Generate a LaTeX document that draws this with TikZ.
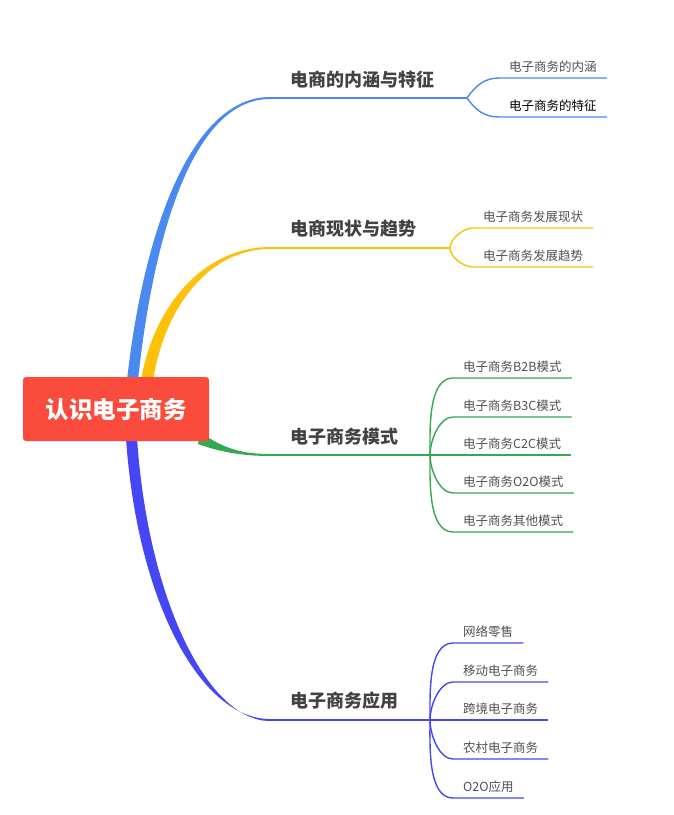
\documentclass[tikz,border=0pt]{standalone}
\usepackage{fontspec}
\setmainfont{Noto Sans CJK SC}
\usetikzlibrary{positioning}
\definecolor{rootred}{HTML}{FA4B3C}
\definecolor{cB}{HTML}{4A89F0}
\definecolor{cY}{HTML}{FEC10A}
\definecolor{cG}{HTML}{36A852}
\definecolor{cV}{HTML}{4646F5}
\definecolor{txt}{HTML}{424242}
\definecolor{subtxt}{HTML}{505050}

\begin{document}
\begin{tikzpicture}[x=1pt,y=-1pt,
  root/.style={fill=rootred,rounded corners=3pt,minimum width=186pt,minimum height=64pt,text=white,font=\fontsize{23.5}{25}\selectfont\bfseries},
  topic/.style={inner sep=0pt,text=txt,font=\fontsize{18}{20}\selectfont\bfseries},
  sub/.style={anchor=south west,inner xsep=10pt,inner ysep=4.5pt,text height=11pt,text depth=1.5pt,text=subtxt,font=\fontsize{12.5}{14}\selectfont},
  br/.style={line width=1.7pt},
  sl/.style={line width=1.4pt},
  bendup/.style={out=90,in=180,looseness=0.8},
  benddn/.style={out=-90,in=180,looseness=0.8}]
\useasboundingbox (0,0) rectangle (673,815);
% ---- branch joints ----
\coordinate (b1) at (270,98);  \coordinate (j1) at (467,98);
\coordinate (b2) at (270,248); \coordinate (j2) at (450,248);
\coordinate (b3) at (270,455); \coordinate (j3) at (430,455);
\coordinate (b4) at (270,720); \coordinate (j4) at (430,720);
% ---- tapered main branches (under the root box) ----
\fill[cB] (127,380) .. controls (145,220) and (195,97) .. (270,97) -- (270,99) .. controls (197,99) and (155,222) .. (138,380) -- cycle;
\fill[cY] (141,380) .. controls (155,300) and (208,247) .. (270,247) -- (270,249) .. controls (212,249) and (166,302) .. (153,380) -- cycle;
\fill[cG] (200,432) .. controls (225,450) and (245,454) .. (270,454) -- (270,456) .. controls (243,456) and (220,452) .. (198,444) -- cycle;
\fill[cV] (126,438) .. controls (137,600) and (200,719) .. (270,719) -- (270,721) .. controls (208,721) and (148,600) .. (137,438) -- cycle;
% ---- root ----
\node[root] (root) at (116,409) {认识电子商务};
% ---- topics ----
\node[topic,above right=10pt and 20pt of b1] (t1) {电商的内涵与特征};
\node[topic,above right=10pt and 20pt of b2] (t2) {电商现状与趋势};
\node[topic,above right=10pt and 20pt of b3] (t3) {电子商务模式};
\node[topic,above right=10pt and 20pt of b4] (t4) {电子商务应用};
\draw[cB,br] (b1) -- (j1);
\draw[cY,br] (b2) -- (j2);
\draw[cG,br] (b3) -- (j3);
\draw[cV,br] (b4) -- (j4);
% ---- 电商的内涵与特征 ----
\node[sub] (s11) at (499,78) {电子商务的内涵};
\node[sub,text=black] (s12) at (499,117) {电子商务的特征};
\draw[cB,sl] (j1) to[out=55,in=180] (s11.south west) -- (s11.south east);
\draw[cB,sl] (j1) to[out=-55,in=180] (s12.south west) -- (s12.south east);
% ---- 电商现状与趋势 ----
\node[sub] (s21) at (473,228) {电子商务发展现状};
\node[sub] (s22) at (473,267) {电子商务发展趋势};
\draw[cY,sl] (j2) to[bendup] (s21.south west) -- (s21.south east);
\draw[cY,sl] (j2) to[benddn] (s22.south west) -- (s22.south east);
% ---- 电子商务模式 ----
\node[sub] (s31) at (453,378) {电子商务B2B模式};
\node[sub] (s32) at (453,417) {电子商务B3C模式};
\node[sub] (s33) at (453,455) {电子商务C2C模式};
\node[sub] (s34) at (453,493) {电子商务O2O模式};
\node[sub] (s35) at (453,532) {电子商务其他模式};
\draw[cG,sl] (j3) to[bendup] (s31.south west) -- (s31.south east);
\draw[cG,sl] (j3) to[bendup] (s32.south west) -- (s32.south east);
\draw[cG,sl] (j3) -- (s33.south west) -- (s33.south east);
\draw[cG,sl] (j3) to[benddn] (s34.south west) -- (s34.south east);
\draw[cG,sl] (j3) to[benddn] (s35.south west) -- (s35.south east);
% ---- 电子商务应用 ----
\node[sub] (s41) at (453,643) {网络零售};
\node[sub] (s42) at (453,682) {移动电子商务};
\node[sub] (s43) at (453,720) {跨境电子商务};
\node[sub] (s44) at (453,759) {农村电子商务};
\node[sub] (s45) at (453,798) {O2O应用};
\draw[cV,sl] (j4) to[bendup] (s41.south west) -- (s41.south east);
\draw[cV,sl] (j4) to[bendup] (s42.south west) -- (s42.south east);
\draw[cV,sl] (j4) -- (s43.south west) -- (s43.south east);
\draw[cV,sl] (j4) to[benddn] (s44.south west) -- (s44.south east);
\draw[cV,sl] (j4) to[benddn] (s45.south west) -- (s45.south east);
\end{tikzpicture}
\end{document}
